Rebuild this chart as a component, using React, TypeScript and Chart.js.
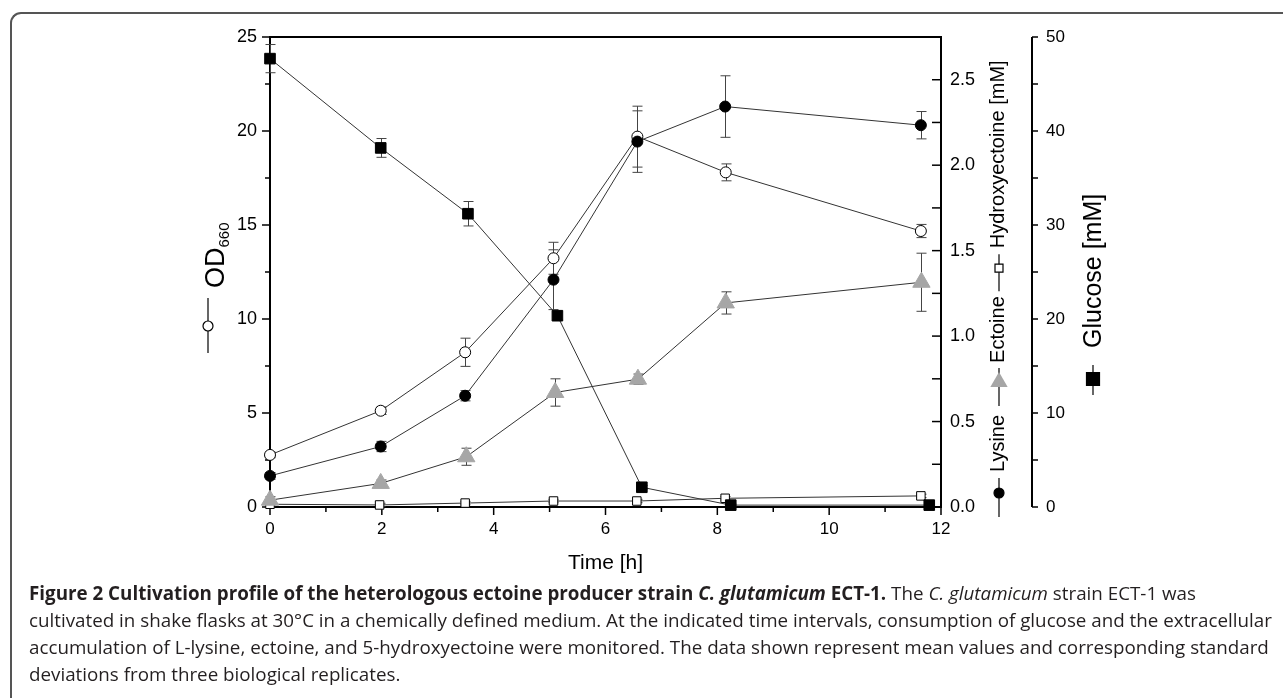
import { useEffect, useRef } from 'react';
import { Chart, registerables } from 'chart.js';

Chart.register(...registerables);

const FONT = "'Liberation Sans', Arial, Helvetica, sans-serif";

// ---- data ----
const xTicks = [0, 2, 4, 6, 8, 10, 12];
const xMinorTicks = [1, 3, 5, 7, 9, 11];
const odTicks = [0, 5, 10, 15, 20, 25];
const odMinorTicks = [2.5, 7.5, 12.5, 17.5, 22.5];
const concTicks = [0, 0.5, 1, 1.5, 2, 2.5];
const concMinorTicks = [0.25, 0.75, 1.25, 1.75, 2.25];
const glcTicks = [0, 10, 20, 30, 40, 50];
const glcMinorTicks = [5, 15, 25, 35, 45];

const odTime = [0, 1.98, 3.49, 5.07, 6.57, 8.15, 11.64];
const odValues = [2.77, 5.12, 8.23, 13.23, 19.7, 17.8, 14.68];
const odErrors = [0.15, 0.2, 0.75, 0.85, 1.62, 0.45, 0.35];

const lysineTime = [0, 1.98, 3.49, 5.07, 6.57, 8.14, 11.64];
const lysineValues = [0.182, 0.354, 0.651, 1.33, 2.138, 2.343, 2.234];
const lysineErrors = [0.02, 0.03, 0.03, 0.175, 0.18, 0.18, 0.08];

const ectoineTime = [0, 1.98, 3.51, 5.1, 6.58, 8.15, 11.65];
const ectoineValues = [0.04, 0.138, 0.294, 0.67, 0.748, 1.194, 1.315];
const ectoineErrors = [0.02, 0.02, 0.05, 0.08, 0.03, 0.065, 0.17];

const hydroxyTime = [0, 1.96, 3.49, 5.07, 6.56, 8.14, 11.64];
const hydroxyValues = [0.016, 0.012, 0.023, 0.035, 0.035, 0.051, 0.065];
const hydroxyErrors = [0.01, 0.01, 0.01, 0.01, 0.01, 0.01, 0.01];

const glucoseTime = [0, 1.98, 3.54, 5.14, 6.65, 8.24, 11.79];
const glucoseValues = [47.7, 38.2, 31.2, 20.35, 2.1, 0.2, 0.2];
const glucoseErrors = [1.5, 1.0, 1.3, 0.4, 0.2, 0.1, 0.1];

const pts = (t: number[], v: number[]) => t.map((x, i) => ({ x, y: v[i] }));

// ---- helpers ----
function drawMarker(ctx: CanvasRenderingContext2D, shape: string, x: number, y: number, s: number) {
  ctx.save();
  ctx.lineWidth = 1.2;
  ctx.strokeStyle = '#000';
  ctx.beginPath();
  if (shape === 'circleOpen' || shape === 'circleFilled') {
    ctx.arc(x, y, s, 0, Math.PI * 2);
    ctx.fillStyle = shape === 'circleOpen' ? '#fff' : '#000';
    ctx.fill();
    ctx.stroke();
  } else if (shape === 'triangle') {
    ctx.moveTo(x, y - s);
    ctx.lineTo(x + s * 0.866, y + s / 2);
    ctx.lineTo(x - s * 0.866, y + s / 2);
    ctx.closePath();
    ctx.fillStyle = '#a6a6a6';
    ctx.fill();
  } else {
    ctx.rect(x - s / 2, y - s / 2, s, s);
    ctx.fillStyle = shape === 'squareOpen' ? '#fff' : '#000';
    ctx.fill();
    ctx.stroke();
  }
  ctx.restore();
}

type Part =
  | { text: string; size: number; dy?: number }
  | { marker: string; len: number; at: number; size: number }
  | { gap: number };

function drawVTitle(ctx: CanvasRenderingContext2D, baseX: number, startY: number, lift: number, parts: Part[]) {
  let p = 0;
  for (const part of parts) {
    if ('gap' in part) {
      p += part.gap;
      continue;
    }
    if ('marker' in part) {
      const x = baseX - lift;
      ctx.save();
      ctx.strokeStyle = '#000';
      ctx.lineWidth = 1.2;
      ctx.beginPath();
      ctx.moveTo(x, startY - p);
      ctx.lineTo(x, startY - p - part.len);
      ctx.stroke();
      ctx.restore();
      drawMarker(ctx, part.marker, x, startY - p - part.at, part.size);
      p += part.len;
      continue;
    }
    ctx.save();
    ctx.translate(baseX + (part.dy || 0), startY - p);
    ctx.rotate(-Math.PI / 2);
    ctx.font = `${part.size}px ${FONT}`;
    ctx.fillStyle = '#000';
    ctx.textBaseline = 'alphabetic';
    ctx.textAlign = 'left';
    ctx.fillText(part.text, 0, 0);
    p += ctx.measureText(part.text).width;
    ctx.restore();
  }
}

const axesPlugin = {
  id: 'axesFrame',
  beforeDatasetsDraw(chart: any) {
    const { ctx, chartArea: ca, scales } = chart;
    ctx.save();
    ctx.strokeStyle = '#000';
    ctx.lineWidth = 2;
    ctx.strokeRect(ca.left, ca.top, ca.right - ca.left, ca.bottom - ca.top);
    const gx = scales.yGlc.left;
    ctx.beginPath();
    ctx.moveTo(gx, ca.top);
    ctx.lineTo(gx, ca.bottom);
    ctx.stroke();

    ctx.lineWidth = 1.5;
    const tick = (x1: number, y1: number, x2: number, y2: number) => {
      ctx.beginPath();
      ctx.moveTo(x1, y1);
      ctx.lineTo(x2, y2);
      ctx.stroke();
    };
    odTicks.forEach((v) => { const y = scales.yOD.getPixelForValue(v); tick(ca.left - 8, y, ca.left, y); });
    odMinorTicks.forEach((v) => { const y = scales.yOD.getPixelForValue(v); tick(ca.left - 5, y, ca.left, y); });
    xTicks.forEach((v) => { const x = scales.x.getPixelForValue(v); tick(x, ca.bottom, x, ca.bottom + 8); });
    xMinorTicks.forEach((v) => { const x = scales.x.getPixelForValue(v); tick(x, ca.bottom, x, ca.bottom + 5); });
    [...concTicks, ...concMinorTicks].forEach((v) => { const y = scales.yConc.getPixelForValue(v); tick(ca.right - 9, y, ca.right, y); });
    [...glcTicks, ...glcMinorTicks].forEach((v) => { const y = scales.yGlc.getPixelForValue(v); tick(gx, y, gx + 6, y); });
    ctx.restore();
  },
};

const errorBarPlugin = {
  id: 'errorBars',
  beforeDatasetsDraw(chart: any) {
    const { ctx, scales } = chart;
    ctx.save();
    ctx.strokeStyle = '#444';
    ctx.lineWidth = 1;
    chart.data.datasets.forEach((ds: any) => {
      const ys = scales[ds.yAxisID];
      ds.data.forEach((pt: any, i: number) => {
        const e = ds.errors[i];
        const px = Math.round(scales.x.getPixelForValue(pt.x)) + 0.5;
        const y1 = ys.getPixelForValue(pt.y + e);
        const y2 = ys.getPixelForValue(pt.y - e);
        ctx.beginPath();
        ctx.moveTo(px, y1);
        ctx.lineTo(px, y2);
        ctx.moveTo(px - 5, y1);
        ctx.lineTo(px + 5, y1);
        ctx.moveTo(px - 5, y2);
        ctx.lineTo(px + 5, y2);
        ctx.stroke();
      });
    });
    ctx.restore();
  },
};

const titlesPlugin = {
  id: 'axisTitles',
  afterDraw(chart: any) {
    const { ctx, chartArea: ca, scales } = chart;
    // left: —○— OD660
    drawVTitle(ctx, ca.left - 46, ca.bottom - 154, 16, [
      { marker: 'circleOpen', len: 55, at: 27, size: 5 },
      { gap: 10 },
      { text: 'OD', size: 27 },
      { text: '660', size: 15, dy: 5 },
    ]);
    // middle right
    drawVTitle(ctx, ca.right + 63, ca.bottom + 10, 5, [
      { marker: 'circleFilled', len: 39, at: 24, size: 5 },
      { gap: 6 },
      { text: 'Lysine', size: 20 },
      { gap: 9 },
      { marker: 'triangle', len: 38, at: 24, size: 10 },
      { gap: 5 },
      { text: 'Ectoine', size: 20 },
      { gap: 5 },
      { marker: 'squareOpen', len: 37, at: 23, size: 8 },
      { gap: 6 },
      { text: 'Hydroxyectoine [mM]', size: 20 },
    ]);
    // glucose
    drawVTitle(ctx, scales.yGlc.left + 69, ca.bottom - 112, 8, [
      { marker: 'squareFilled', len: 30, at: 16, size: 13 },
      { gap: 17 },
      { text: 'Glucose [mM]', size: 25 },
    ]);
  },
};

const base = {
  borderColor: '#333',
  borderWidth: 1,
  tension: 0,
  clip: false as any,
  pointBorderWidth: 1,
  pointBorderColor: '#000',
  fill: false,
};

const hiddenGrid = { display: false, drawTicks: false, tickLength: 0 };

export default function App() {
  const ref = useRef<HTMLCanvasElement>(null);
  useEffect(() => {
    const chart = new Chart(ref.current as HTMLCanvasElement, {
      type: 'line',
      data: {
        datasets: [
          { ...base, label: 'Lysine', yAxisID: 'yConc', data: pts(lysineTime, lysineValues), errors: lysineErrors, pointStyle: 'circle', pointRadius: 5.5, pointBackgroundColor: '#000' } as any,
          { ...base, label: 'OD660', yAxisID: 'yOD', data: pts(odTime, odValues), errors: odErrors, pointStyle: 'circle', pointRadius: 5.5, pointBackgroundColor: '#fff' } as any,
          { ...base, label: 'Glucose', yAxisID: 'yGlc', data: pts(glucoseTime, glucoseValues), errors: glucoseErrors, pointStyle: 'rect', pointRadius: 7.5, pointBackgroundColor: '#000' } as any,
          { ...base, label: 'Ectoine', yAxisID: 'yConc', data: pts(ectoineTime, ectoineValues), errors: ectoineErrors, pointStyle: 'triangle', pointRadius: 10, pointBackgroundColor: '#a6a6a6', pointBorderColor: '#a6a6a6' } as any,
          { ...base, label: 'Hydroxyectoine', yAxisID: 'yConc', data: pts(hydroxyTime, hydroxyValues), errors: hydroxyErrors, pointStyle: 'rect', pointRadius: 6, pointBackgroundColor: '#fff' } as any,
        ],
      },
      options: {
        responsive: false,
        animation: false,
        events: [],
        layout: { padding: { top: 37, left: 0, right: 0, bottom: 0 } },
        plugins: { legend: { display: false }, tooltip: { enabled: false } },
        scales: {
          x: {
            type: 'linear',
            position: 'bottom',
            min: 0,
            max: 12,
            grid: hiddenGrid,
            border: { display: false },
            ticks: { autoSkip: false, padding: 12, color: '#000', font: { family: FONT, size: 17 } },
            title: { display: true, text: 'Time [h]', color: '#000', font: { family: FONT, size: 21 }, padding: { top: 0, bottom: 14 } },
            afterBuildTicks: (s: any) => { s.ticks = xTicks.map((value) => ({ value })); },
            afterFit: (s: any) => { s.height = 83; },
          },
          yOD: {
            type: 'linear',
            position: 'left',
            min: 0,
            max: 25,
            grid: hiddenGrid,
            border: { display: false },
            ticks: { autoSkip: false, padding: 13, color: '#000', font: { family: FONT, size: 18 } },
            afterBuildTicks: (s: any) => { s.ticks = odTicks.map((value) => ({ value })); },
            afterFit: (s: any) => { s.width = 270; },
          },
          yConc: {
            type: 'linear',
            position: 'right',
            weight: 0,
            min: 0,
            max: 2.75,
            grid: hiddenGrid,
            border: { display: false },
            ticks: { autoSkip: false, padding: 9, color: '#000', font: { family: FONT, size: 18 }, callback: (v: any) => Number(v).toFixed(1) },
            afterBuildTicks: (s: any) => { s.ticks = concTicks.map((value) => ({ value })); },
            afterFit: (s: any) => { s.width = 91; },
          },
          yGlc: {
            type: 'linear',
            position: 'right',
            weight: 1,
            min: 0,
            max: 50,
            grid: hiddenGrid,
            border: { display: false },
            ticks: { autoSkip: false, padding: 14, color: '#000', font: { family: FONT, size: 17 } },
            afterBuildTicks: (s: any) => { s.ticks = glcTicks.map((value) => ({ value })); },
            afterFit: (s: any) => { s.width = 251; },
          },
        } as any,
      },
      plugins: [axesPlugin, errorBarPlugin, titlesPlugin],
    });
    return () => chart.destroy();
  }, []);

  const it = { fontStyle: 'italic' as const };
  return (
    <div style={{ position: 'absolute', left: 0, top: 0, width: 1283, height: 698, overflow: 'hidden', background: '#fff' }}>
      <div
        style={{
          position: 'absolute',
          left: 10,
          top: 12,
          width: 1400,
          height: 800,
          borderLeft: '2px solid #555',
          borderTop: '2px solid #555',
          borderTopLeftRadius: 11,
        }}
      />
      <canvas ref={ref} width={1283} height={590} style={{ position: 'absolute', left: 0, top: 0 }} />
      <div
        style={{
          position: 'absolute',
          left: 29,
          top: 580,
          fontFamily: "'Open Sans', 'Noto Sans', sans-serif",
          fontSize: 18.8,
          lineHeight: '27px',
          color: '#231f20',
          whiteSpace: 'nowrap',
        }}
      >
        <b>
          Figure 2 Cultivation profile of the heterologous ectoine producer strain <span style={it}>C. glutamicum</span> ECT-1.
        </b>{' '}
        The <span style={it}>C. glutamicum</span> strain ECT-1 was
        <br />
        cultivated in shake flasks at 30°C in a chemically defined medium. At the indicated time intervals, consumption of glucose and the extracellular
        <br />
        accumulation of L-lysine, ectoine, and 5-hydroxyectoine were monitored. The data shown represent mean values and corresponding standard
        <br />
        deviations from three biological replicates.
      </div>
    </div>
  );
}
